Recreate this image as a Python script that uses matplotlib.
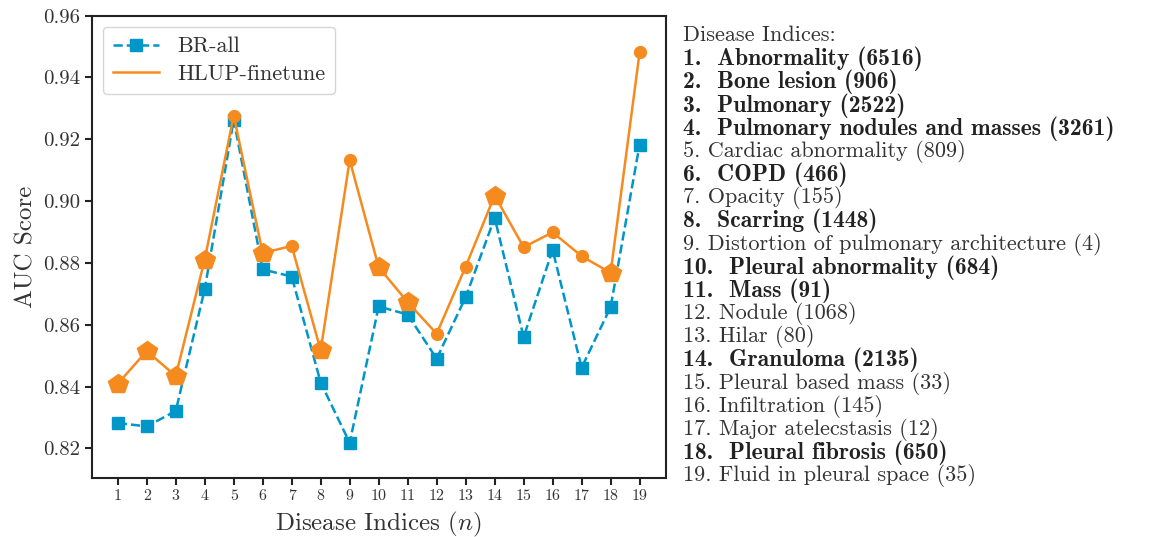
import matplotlib
matplotlib.use("Agg")
import matplotlib.pyplot as plt
import numpy as np

plt.rcParams['font.family'] = ['cmr10', 'DejaVu Serif']
plt.rcParams['mathtext.fontset'] = 'cm'
plt.rcParams['axes.unicode_minus'] = False
plt.rcParams['axes.formatter.use_mathtext'] = True

indices = list(range(1, 20))
br_all = [0.8282, 0.8271, 0.8321, 0.8715, 0.9263, 0.8779, 0.8756, 0.8413, 0.8218, 0.8659,
          0.8633, 0.8490, 0.8689, 0.8946, 0.8560, 0.8842, 0.8461, 0.8657, 0.9183]
hlup = [0.8409, 0.8515, 0.8434, 0.8811, 0.9277, 0.8832, 0.8855, 0.8517, 0.9133, 0.8786,
        0.8673, 0.8571, 0.8788, 0.9018, 0.8851, 0.8899, 0.8822, 0.8768, 0.9481]
disease_names = ["Abnormality (6516)", "Bone lesion (906)", "Pulmonary (2522)",
                 "Pulmonary nodules and masses (3261)", "Cardiac abnormality (809)",
                 "COPD (466)", "Opacity (155)", "Scarring (1448)",
                 "Distortion of pulmonary architecture (4)", "Pleural abnormality (684)",
                 "Mass (91)", "Nodule (1068)", "Hilar (80)", "Granuloma (2135)",
                 "Pleural based mass (33)", "Infiltration (145)", "Major atelecstasis (12)",
                 "Pleural fibrosis (650)", "Fluid in pleural space (35)"]
highlighted = [1, 2, 3, 4, 6, 8, 10, 11, 14, 18]

blue = '#0096c8'
orange = '#f58a1f'
txt = '#333333'

fig = plt.figure(figsize=(11.72, 5.37), dpi=100)
ax = fig.add_axes([0.0782, 0.1104, 0.4898, 0.8604])

ax.plot(indices, br_all, linestyle='--', color=blue, marker='s', markersize=8.5,
        linewidth=1.8, label='BR-all', zorder=2)
ax.plot(indices, hlup, linestyle='-', color=orange, linewidth=1.8, label='HLUP-finetune', zorder=3)
for i, v in zip(indices, hlup):
    if i in highlighted:
        ax.plot(i, v, marker='p', markersize=15, color=orange, linestyle='none', zorder=4)
    else:
        ax.plot(i, v, marker='o', markersize=8.5, color=orange, linestyle='none', zorder=4)

ax.set_ylim(0.8105, 0.96)
ax.set_yticks([0.82, 0.84, 0.86, 0.88, 0.90, 0.92, 0.94, 0.96])
ax.set_yticklabels(['0.82', '0.84', '0.86', '0.88', '0.90', '0.92', '0.94', '0.96'])
ax.set_xticks(indices)
ax.set_xticklabels([str(i) for i in indices])
ax.tick_params(axis='y', labelsize=15, colors=txt, length=5, width=1.5)
ax.tick_params(axis='x', labelsize=11.5, colors=txt, length=5, width=1.5)
ax.tick_params(axis='both', color='#222222')
for s in ax.spines.values():
    s.set_linewidth(1.5)
    s.set_color('#222222')
ax.set_xlabel(r'Disease Indices ($n$)', fontsize=18, color=txt, labelpad=5)
ax.set_ylabel('AUC Score', fontsize=18, color=txt)

leg = ax.legend(loc='upper left', fontsize=16, frameon=True, fancybox=True,
                edgecolor='#cccccc', handlelength=2.1, handletextpad=0.8,
                borderpad=0.45, labelspacing=0.35, borderaxespad=0.5)
for t in leg.get_texts():
    t.set_color(txt)

x0 = 683 / 1172
def ypos(py):
    return 1 - py / 537

fig.text(x0, ypos(35), 'Disease Indices:', fontsize=16, color=txt, va='center', ha='left')
for k, name in enumerate(disease_names):
    idx = k + 1
    y = ypos(59 + 23.15 * k)
    if idx in highlighted:
        fig.text(x0, y, f'{idx}.  {name}', fontsize=17, color='#222222', va='center', ha='left',
                 family=['cmb10', 'DejaVu Serif'])
    else:
        fig.text(x0, y, f'{idx}. {name}', fontsize=16, color=txt, va='center', ha='left')

fig.savefig('out.png', dpi=100)
